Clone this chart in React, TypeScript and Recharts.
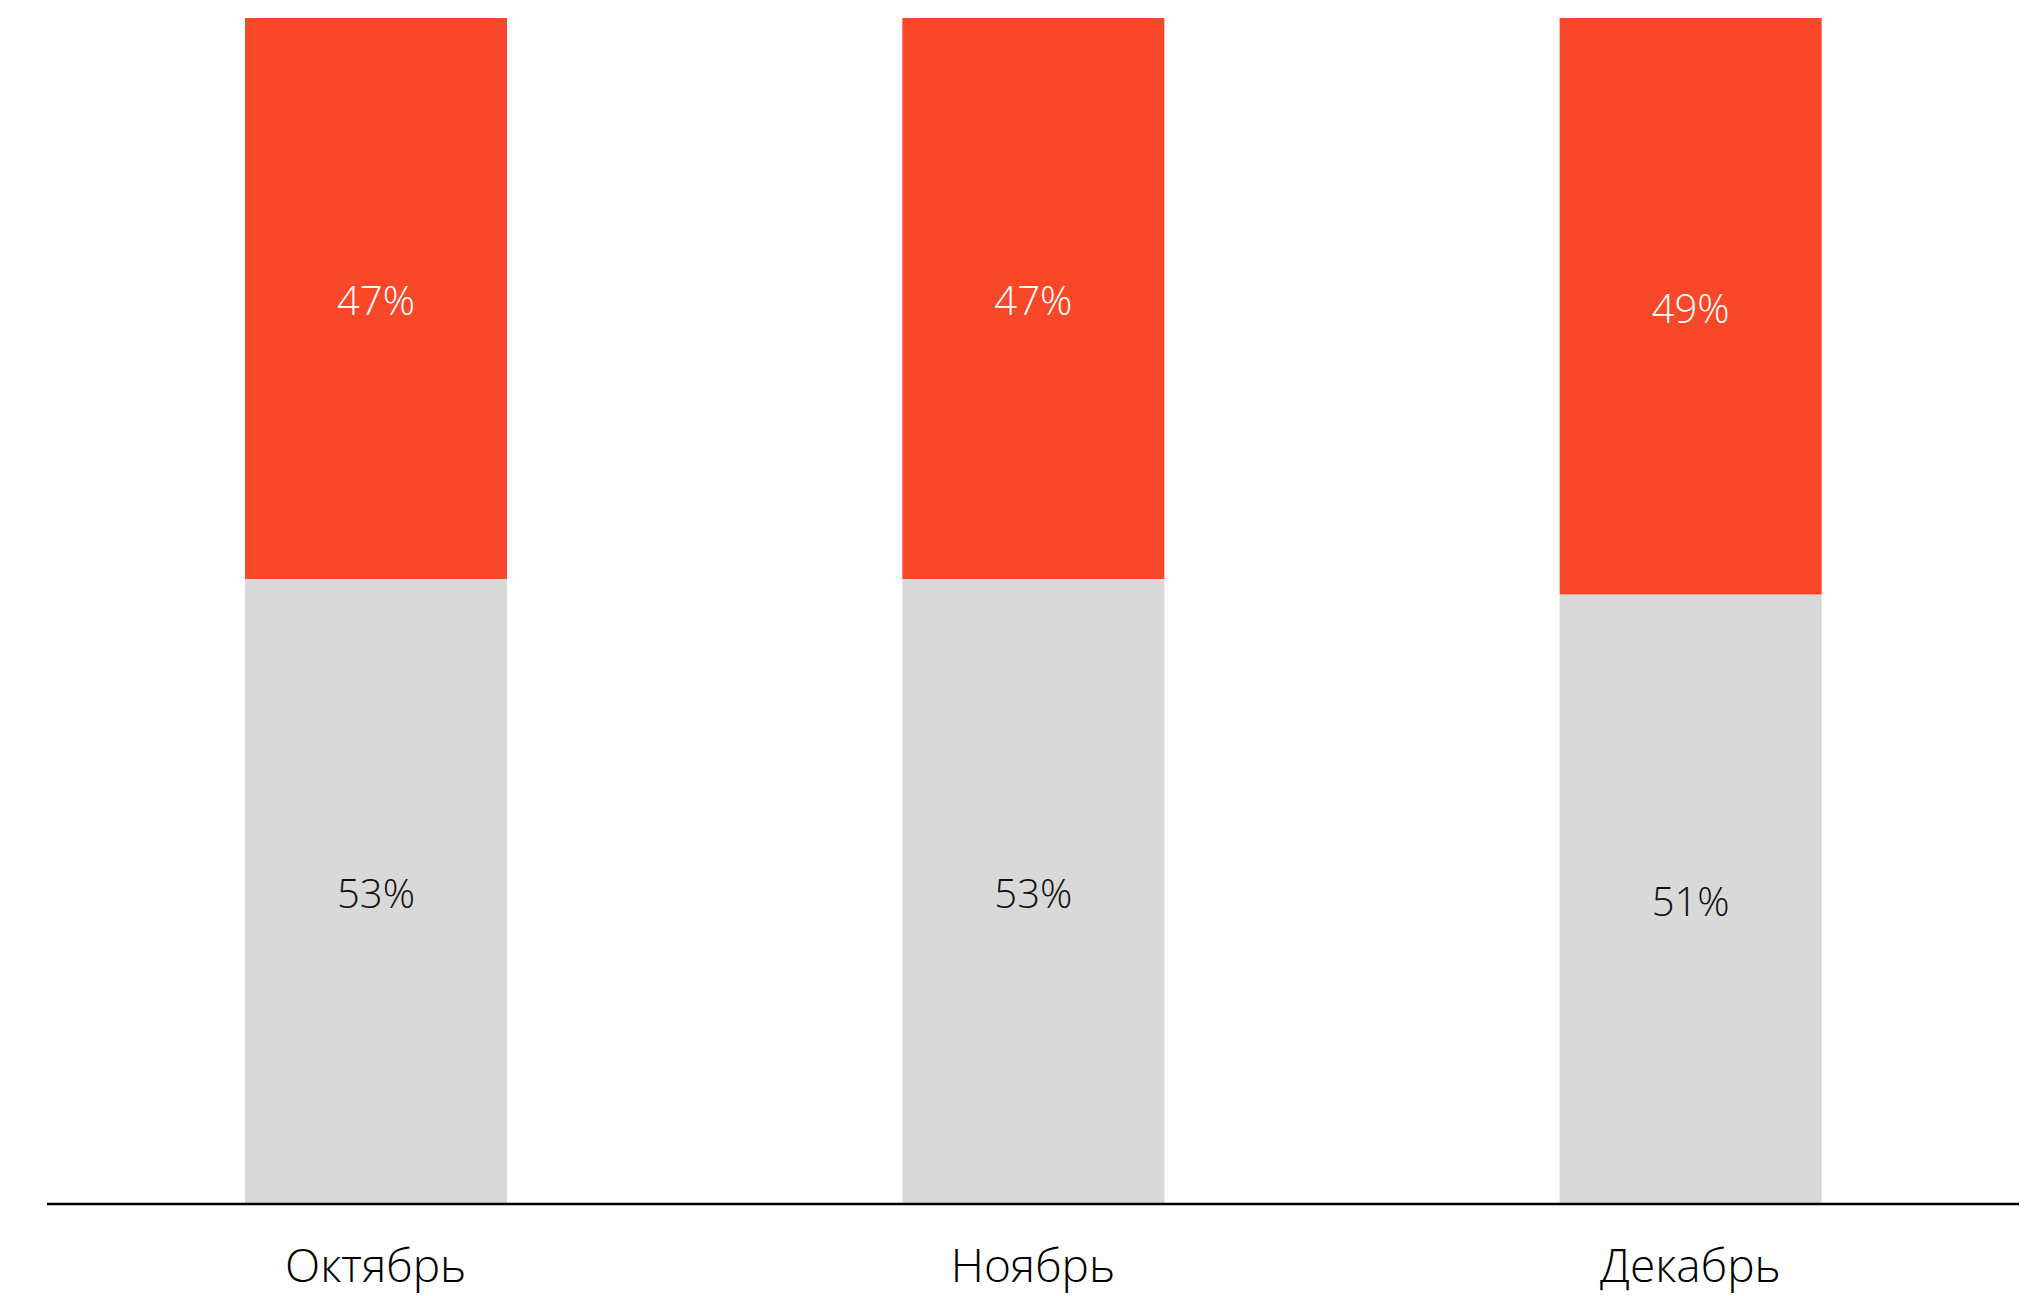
import React from "react";
import { BarChart, Bar, XAxis, YAxis, LabelList } from "recharts";

const months = ["Октябрь", "Ноябрь", "Декабрь"];
const grayValues = [52.7, 52.7, 51.4];
const redValues = [47.3, 47.3, 48.6];

const data = months.map((m, i) => ({ month: m, gray: grayValues[i], red: redValues[i] }));

const FONT = "'Open Sans', 'Noto Sans', sans-serif";

const MonthTick = (props: any) => {
  const { x, y, payload } = props;
  return (
    <text x={x} y={y + 78} textAnchor="middle" fontFamily={FONT} fontWeight={300} fontSize={46} fill="#000">
      {payload.value}
    </text>
  );
};

const makeLabel = (color: string) => (props: any) => {
  const { x, y, width, height, value } = props;
  return (
    <text
      x={x + width / 2}
      y={y + height / 2 + 1}
      textAnchor="middle"
      dominantBaseline="central"
      fontFamily={FONT}
      fontWeight={300}
      fontSize={40}
      fill={color}
    >
      {Math.round(value)}%
    </text>
  );
};

export default function App() {
  return (
    <div style={{ position: "absolute", left: 0, top: 0, background: "#fff" }}>
      <BarChart width={2029} height={1296} data={data} margin={{ top: 18, right: 10, bottom: 0, left: 47 }}>
        <XAxis
          dataKey="month"
          height={92}
          tickLine={false}
          tickSize={0}
          tickMargin={0}
          axisLine={{ stroke: "#000", strokeWidth: 2.5 }}
          tick={<MonthTick />}
          interval={0}
        />
        <YAxis hide domain={[0, 100]} />
        <Bar dataKey="gray" stackId="a" fill="#D9D9D9" barSize={262} isAnimationActive={false}>
          <LabelList dataKey="gray" content={makeLabel("#111111")} />
        </Bar>
        <Bar dataKey="red" stackId="a" fill="#F9472A" barSize={262} isAnimationActive={false}>
          <LabelList dataKey="red" content={makeLabel("#ffffff")} />
        </Bar>
      </BarChart>
    </div>
  );
}
